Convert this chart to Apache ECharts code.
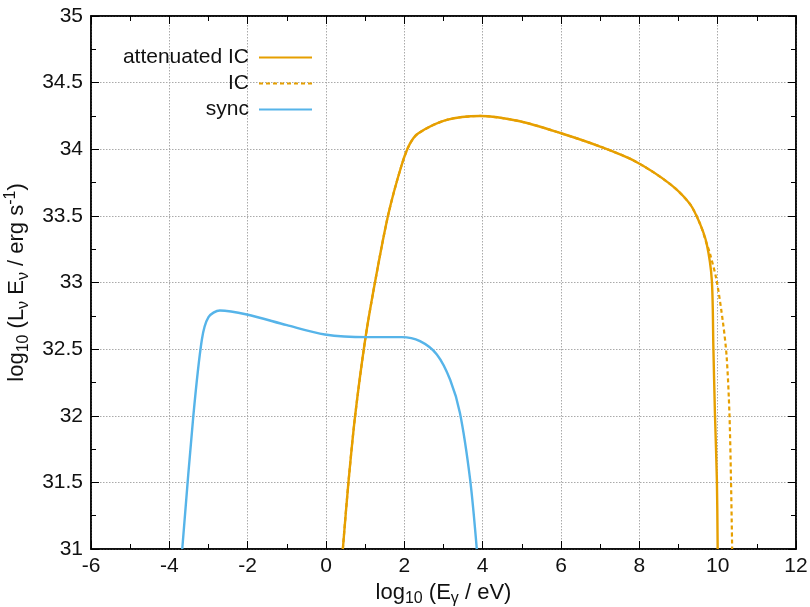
<!DOCTYPE html>
<html><head><meta charset="utf-8">
<script src="https://cdn.jsdelivr.net/npm/echarts@6/dist/echarts.min.js"></script>
<style>html,body{margin:0;padding:0;background:#fff}#c{width:810px;height:607px}</style>
</head><body><div id="c"></div>
<script>
// log10(E/eV) and log10(L E) values
const syncX = [-3.67,-3.39,-3.17,-3.0,-2.71,-2.02,-1.0,-0.03,1.04,1.93,2.40,2.83,3.17,3.42,3.68,3.85];
const syncY = [31.0,31.99,32.57,32.74,32.79,32.76,32.68,32.61,32.59,32.59,32.56,32.46,32.27,32.02,31.52,31.0];
const attX = [0.43,0.57,0.74,1.0,1.25,1.59,1.93,2.14,2.36,3.08,3.93,4.95,6.0,7.0,7.89,8.78,9.29,9.55,9.72,9.85,9.89,9.93,9.98,10.0];
const attY = [31.0,31.49,31.99,32.57,33.0,33.51,33.88,34.04,34.12,34.22,34.25,34.21,34.12,34.02,33.91,33.74,33.59,33.44,33.29,33.02,32.52,32.02,31.52,31.0];
const icX = [0.43,0.57,0.74,1.0,1.25,1.59,1.93,2.14,2.36,3.08,3.93,4.95,6.0,7.0,7.89,8.78,9.29,9.55,9.72,9.80,9.97,10.14,10.23,10.30,10.34,10.37];
const icY = [31.0,31.49,31.99,32.57,33.0,33.51,33.88,34.04,34.12,34.22,34.25,34.21,34.12,34.02,33.91,33.74,33.59,33.44,33.29,33.22,33.02,32.69,32.44,32.02,31.52,31.0];
const seriesNames = ['attenuated IC','IC','sync'];
const xTicks = {min:-6,max:12,interval:2};
const yTicks = {min:31,max:35,interval:0.5};

const pairs = (xs,ys)=>xs.map((x,i)=>[x,ys[i]]);
const FONT = 'Liberation Sans';
const FS = 21;
const orange = '#e69f00', blue = '#56b4e9';
const chart = echarts.init(document.getElementById('c'));
const tickCommon = {inside:true,length:8,lineStyle:{color:'#000',width:1}};
const minorCommon = {show:true,splitNumber:2,length:5,lineStyle:{color:'#000',width:1}};
const splitLine = {show:true,lineStyle:{color:'#aaa',type:[1.5,1.5],width:1}};
const axisLine = {show:true,onZero:false,lineStyle:{color:'#000',width:1.5}};
const n = {fontSize:22,fontFamily:FONT,color:'#111'};
const s = {fontSize:16,fontFamily:FONT,color:'#111',padding:[12,0,0,0]};
const p = {fontSize:16,fontFamily:FONT,color:'#111',padding:[0,0,13,0]};
chart.setOption({
  animation:false,
  textStyle:{fontFamily:FONT},
  grid:{left:91,right:14,top:16,bottom:58,containLabel:false,outerBoundsMode:'none',show:true,borderColor:'#000',borderWidth:1.5,backgroundColor:'transparent'},
  legend:{
    orient:'vertical',align:'right',right:497,top:47,padding:0,itemWidth:53,itemHeight:14,itemGap:5,
    itemStyle:{opacity:0},
    textStyle:{fontFamily:FONT,fontSize:FS,color:'#111',padding:[0,5,0,0]},
    data:seriesNames
  },
  xAxis:[{
    type:'value',min:xTicks.min,max:xTicks.max,interval:xTicks.interval,
    axisLine:axisLine,axisTick:tickCommon,minorTick:minorCommon,splitLine:splitLine,
    axisLabel:{color:'#111',fontSize:FS,fontFamily:FONT,margin:7},
    name:'{n|log}{s|10}{n| (E}{s|γ}{n| / eV)}',nameLocation:'middle',nameGap:27,
    nameTextStyle:{rich:{n:n,s:s}}
  },{
    type:'value',position:'top',min:xTicks.min,max:xTicks.max,interval:xTicks.interval,
    axisLine:axisLine,axisTick:tickCommon,minorTick:minorCommon,splitLine:{show:false},axisLabel:{show:false}
  }],
  yAxis:[{
    type:'value',min:yTicks.min,max:yTicks.max,interval:yTicks.interval,
    axisLine:axisLine,axisTick:tickCommon,minorTick:minorCommon,splitLine:splitLine,
    axisLabel:{color:'#111',fontSize:FS,fontFamily:FONT,margin:8},
    name:'{n|log}{s|10}{n| (L}{s|ν}{n| E}{s|ν}{n| / erg s}{p|-1}{n|)}',nameLocation:'middle',nameGap:48,nameRotate:90,
    nameTextStyle:{rich:{n:n,s:s,p:p}}
  },{
    type:'value',position:'right',min:yTicks.min,max:yTicks.max,interval:yTicks.interval,
    axisLine:axisLine,axisTick:tickCommon,minorTick:minorCommon,splitLine:{show:false},axisLabel:{show:false}
  }],
  series:[
    {name:seriesNames[1],type:'line',data:pairs(icX,icY),showSymbol:false,symbol:'none',smooth:0.3,clip:true,
     lineStyle:{color:orange,width:2.2,type:[4,3]},itemStyle:{color:orange},z:2},
    {name:seriesNames[0],type:'line',data:pairs(attX,attY),showSymbol:false,symbol:'none',smooth:0.3,clip:true,
     lineStyle:{color:orange,width:2.4},itemStyle:{color:orange},z:3},
    {name:seriesNames[2],type:'line',data:pairs(syncX,syncY),showSymbol:false,symbol:'none',smooth:0.3,clip:true,
     lineStyle:{color:blue,width:2.4},itemStyle:{color:blue},z:3}
  ]
});
</script></body></html>
